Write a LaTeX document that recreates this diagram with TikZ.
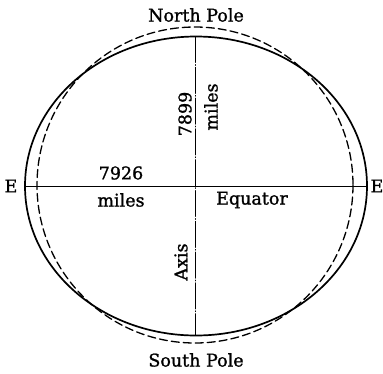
\documentclass[tikz,border=0pt]{standalone}
\usepackage{fontspec}
\setmainfont[FakeBold=1.3]{DejaVu Serif}

\begin{document}
\begin{tikzpicture}[x=1pt,y=-1pt,line cap=round,line join=round,
  lbl/.style={inner sep=0pt,font=\fontsize{17.5}{18}\selectfont},
  axisline/.style={line width=0.9pt,dash pattern=on 26pt off 2pt on 0.8pt off 2pt}]
\path[use as bounding box] (0,0) rectangle (383,373);
\draw[line width=1.3pt,dashed,dash pattern=on 8pt off 4pt] (195,185) circle[radius=158];
\draw[line width=1.7pt] (196,186) ellipse[x radius=171,y radius=149.5];
\coordinate (np) at (195,36.5);
\coordinate (sp) at (195,335.5);
\coordinate (ew) at (25,186);
\coordinate (ee) at (367,186);
\draw[line width=0.9pt] (ew) -- (ee);
\draw[axisline] (np) -- (sp);
\node[lbl] (north) at (196,15) {North Pole};
\node[lbl] (south) at (196,360) {South Pole};
\node[lbl] (west) at (11,186) {E};
\node[lbl] (east) at (377,186) {E};
\node[lbl] (diam) at (121,173) {7926};
\node[lbl] (diamunit) at (121,200) {miles};
\node[lbl] (equator) at (252,200) {Equator};
\node[lbl,rotate=90] (polar) at (185,114) {7899};
\node[lbl,rotate=90] (polarunit) at (211,107) {miles};
\node[lbl,rotate=90] (axis) at (181,262) {Axis};
\end{tikzpicture}
\end{document}
